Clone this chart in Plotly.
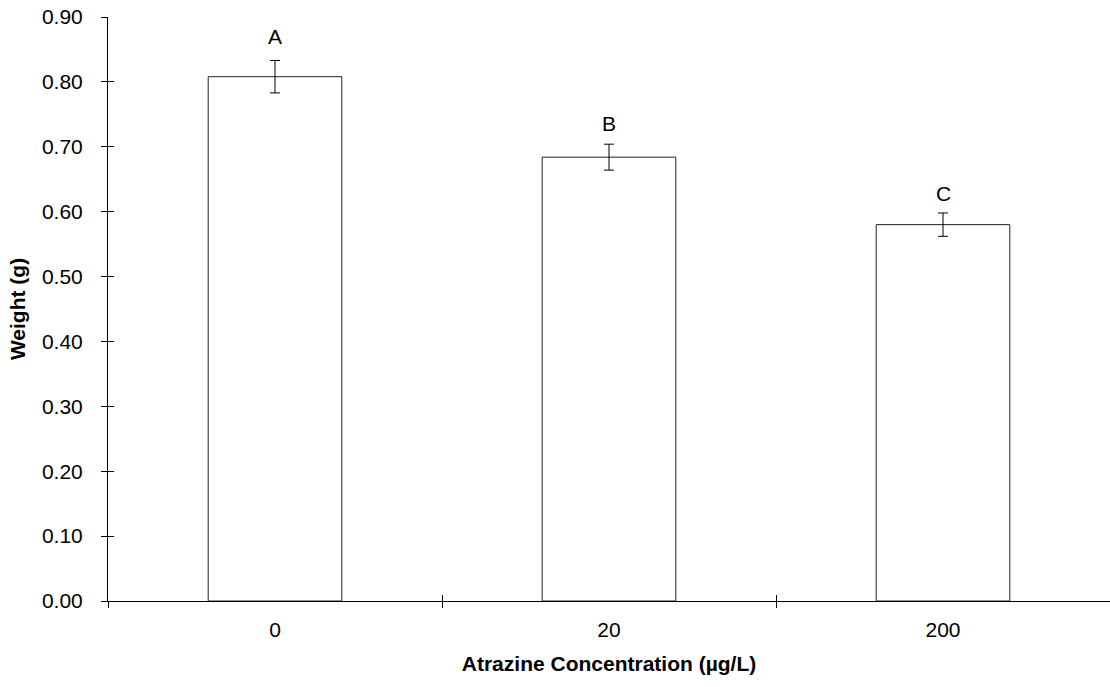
import plotly.graph_objects as go

categories = ["0", "20", "200"]
means = [0.808, 0.684, 0.580]
errors = [0.025, 0.020, 0.018]
letters = ["A", "B", "C"]
y_ticks = [0.0, 0.1, 0.2, 0.3, 0.4, 0.5, 0.6, 0.7, 0.8, 0.9]

FONT = "Arial, Liberation Sans, sans-serif"
FS = 21

fig = go.Figure()
fig.add_trace(go.Bar(
    x=categories, y=means, width=0.4,
    marker=dict(color="white", line=dict(color="#222222", width=1)),
    error_y=dict(type="data", array=errors, color="black", thickness=1, width=5),
    showlegend=False,
))
# invisible helper trace for the crossing (inside) tick marks
fig.add_trace(go.Scatter(
    x=categories, y=means, xaxis="x2", yaxis="y2", mode="markers",
    marker=dict(opacity=0), hoverinfo="skip", showlegend=False,
))

for i, (m, e, t) in enumerate(zip(means, errors, letters)):
    fig.add_annotation(x=i, xref="x", y=m + 2 * e, text=t, showarrow=False, yanchor="bottom",
                       yshift=-6, font=dict(size=FS, color="black", family=FONT))

common_x = dict(type="category", categoryorder="array", categoryarray=categories,
                range=[-0.5, 2.5], tickson="boundaries", ticklen=6, tickcolor="black",
                showgrid=False, zeroline=False, automargin=False)
common_y = dict(range=[0, 0.9], tickvals=y_ticks, ticklen=6, tickcolor="black",
                showgrid=False, zeroline=False, automargin=False)

fig.update_layout(
    width=1110, height=687,
    margin=dict(l=108, r=0, t=17, b=86),
    paper_bgcolor="white", plot_bgcolor="white",
    font=dict(family=FONT, size=FS, color="black"),
    xaxis=dict(**common_x, ticks="outside", showline=True, linecolor="black", linewidth=1,
               tickfont=dict(size=FS), ticklabelstandoff=10,
               title=dict(text="<b>Atrazine Concentration (µg/L)</b>", font=dict(size=FS), standoff=16)),
    xaxis2=dict(**common_x, overlaying="x", ticks="inside", showticklabels=False, showline=False),
    yaxis=dict(**common_y, ticks="outside", tickformat=".2f", showline=True, linecolor="black",
               linewidth=1, tickfont=dict(size=FS), ticklabelstandoff=14,
               title=dict(text="<b>Weight (g)</b>", font=dict(size=FS), standoff=10)),
    yaxis2=dict(**common_y, overlaying="y", ticks="inside", showticklabels=False, showline=False),
)

fig.write_html("out.html", config={"displayModeBar": False},
               post_script="document.body.style.margin='0';")
